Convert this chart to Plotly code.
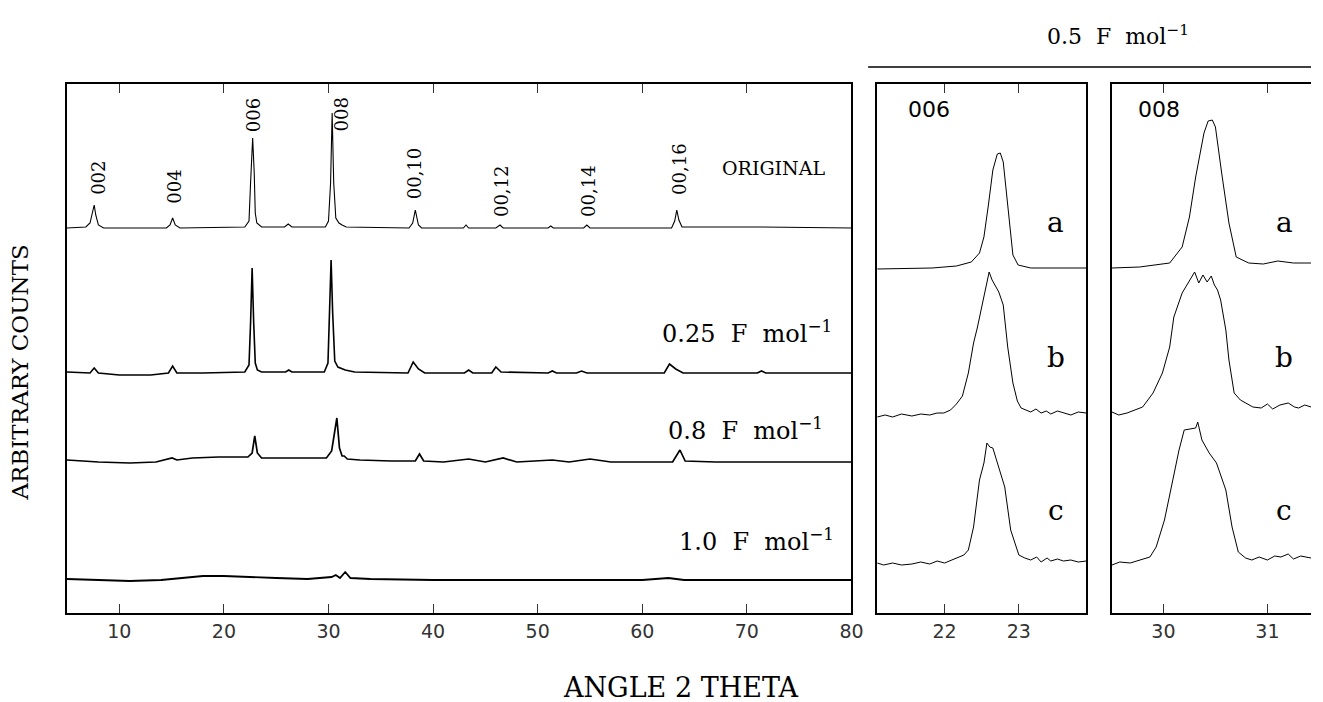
import plotly.graph_objects as go

# ---------------- main panel data (2-theta in degrees, arbitrary counts) ----------------
orig_x = [5, 6.8, 7.2, 7.4, 7.6, 7.75, 8.0, 8.5, 14.5, 14.85, 15.1, 15.35, 15.8, 22.0, 22.4, 22.55,
          22.75, 22.9, 23.0, 23.15, 23.6, 25.8, 26.15, 26.5, 29.7, 30.0, 30.2, 30.35, 30.5, 30.7,
          31.0, 31.3, 31.7, 37.7, 38.05, 38.3, 38.45, 38.6, 38.9, 42.9, 43.15, 43.4, 46.0, 46.4,
          46.7, 51.0, 51.25, 51.5, 54.4, 54.7, 55.0, 62.8, 63.1, 63.3, 63.5, 63.8, 71.0, 80]
orig_y = [385, 386, 390, 400, 408, 398, 388, 385, 385, 388, 395, 388, 385, 386, 392, 430,
          475, 440, 400, 390, 386, 386, 389, 386, 386, 392, 430, 500, 430, 395,
          390, 388, 386, 385, 390, 403, 396, 388, 385, 385, 388, 385, 385, 388,
          385, 385, 387, 385, 385, 388, 385, 385, 392, 403, 393, 386, 386, 385]

f025_x = [5, 7.2, 7.6, 8.0, 10.0, 13.0, 14.7, 15.1, 15.5, 18.0, 22.0, 22.4, 22.55, 22.7, 22.85,
          23.0, 23.2, 23.6, 25.9, 26.2, 26.5, 29.6, 29.95, 30.1, 30.25, 30.4, 30.6, 30.9, 31.2,
          31.6, 32.5, 37.6, 38.1, 38.6, 39.2, 43.0, 43.4, 43.8, 45.6, 46.0, 46.5, 51.0, 51.4,
          51.8, 53.7, 54.2, 54.7, 62.1, 62.6, 63.2, 63.9, 71.0, 71.4, 71.8, 80]
f025_y = [241, 240, 245, 240, 238, 238, 240, 247, 240, 240, 241, 248, 290, 345, 290,
          250, 243, 241, 241, 243, 241, 241, 250, 300, 353, 300, 252, 246, 245,
          243, 241, 240, 251, 244, 240, 240, 243, 240, 240, 246, 241, 240, 242,
          240, 240, 242, 240, 240, 249, 244, 240, 240, 242, 240, 240]

f08_x = [5, 8.0, 11.0, 13.5, 15.05, 15.5, 17.0, 19.5, 22.3, 22.7, 22.95, 23.2, 23.6, 27.0,
         29.8, 30.3, 30.55, 30.8, 31.05, 31.3, 31.5, 31.8, 33.0, 36.0, 38.3, 38.7, 39.1, 41.0,
         43.4, 45.0, 46.7, 48.0, 51.4, 53.0, 55.0, 57.0, 62.9, 63.6, 64.1, 67.0, 72.0, 80]
f08_y = [153, 151, 150, 151, 155, 153, 155, 156, 156, 160, 177, 160, 155, 155,
         155, 162, 180, 195, 165, 157, 157, 154, 153, 152, 152, 159, 152, 151,
         154, 151, 155, 151, 153, 151, 154, 151, 151, 163, 152, 151, 151, 151]

f10_x = [5, 8.0, 11.0, 14.0, 16.0, 18.0, 20.0, 22.0, 25.0, 28.0, 30.3, 30.7, 31.1, 31.6, 32.1,
         34.0, 40.0, 50.0, 60.0, 62.5, 64.0, 70.0, 80]
f10_y = [34, 33, 32, 33, 35, 37, 37, 36, 35, 34, 36, 38, 35, 41, 35,
         34, 33, 33, 33, 35, 33, 33, 33]

# ---------------- 0.5 F/mol detail panels ----------------
p006a_x = [21.093, 21.83, 22.16, 22.36, 22.47, 22.53, 22.59, 22.65, 22.71, 22.75, 22.79,
           22.83, 22.88, 22.92, 22.99, 23.16, 23.907]
p006a_y = [344, 345, 347, 351, 360, 376, 408, 443, 459, 460, 451, 423, 383, 358, 348, 345, 345]

p006b_x = [21.093, 21.2, 21.3, 21.42, 21.56, 21.68, 21.8, 21.9, 21.99, 22.08, 22.16, 22.24,
           22.32, 22.39, 22.44, 22.52, 22.6, 22.64, 22.67, 22.73, 22.79, 22.85, 22.92, 22.98,
           23.03, 23.1, 23.16, 23.23, 23.3, 23.37, 23.43, 23.52, 23.6, 23.7, 23.8, 23.907]
p006b_y = [196, 198, 196, 199, 197, 199, 198, 200, 200, 203, 209, 217, 240, 270, 285, 313,
           341, 333, 329, 321, 308, 266, 230, 212, 205, 203, 201, 204, 200, 202, 199, 202,
           200, 198, 201, 200]

p006c_x = [21.093, 21.18, 21.3, 21.42, 21.56, 21.68, 21.8, 21.9, 22.0, 22.1, 22.19, 22.26,
           22.32, 22.39, 22.47, 22.53, 22.57, 22.61, 22.65, 22.71, 22.76, 22.81, 22.89, 23.0,
           23.08, 23.16, 23.24, 23.3, 23.38, 23.43, 23.52, 23.6, 23.7, 23.8, 23.907]
p006c_y = [50, 48, 50, 48, 49, 51, 49, 52, 50, 53, 56, 58, 63, 86, 133, 150, 170, 166, 165,
           151, 140, 126, 83, 58, 55, 53, 56, 51, 55, 52, 54, 52, 53, 51, 52]

p008a_x = [29.505, 29.77, 30.06, 30.18, 30.25, 30.31, 30.39, 30.43, 30.47, 30.5, 30.56, 30.63,
           30.7, 30.82, 30.96, 31.1, 31.25, 31.419]
p008a_y = [345, 346, 350, 366, 396, 436, 480, 492, 493, 486, 440, 390, 356, 350, 349, 352,
           350, 350]

p008b_x = [29.505, 29.57, 29.65, 29.72, 29.8, 29.9, 29.99, 30.06, 30.1, 30.18, 30.25, 30.3,
           30.34, 30.38, 30.42, 30.46, 30.49, 30.52, 30.55, 30.6, 30.63, 30.68, 30.74, 30.79,
           30.86, 30.94, 31.0, 31.05, 31.12, 31.2, 31.26, 31.3, 31.36, 31.419]
p008b_y = [201, 198, 200, 203, 206, 220, 240, 266, 296, 320, 333, 341, 330, 338, 331, 337,
           328, 323, 313, 283, 253, 220, 213, 210, 206, 205, 209, 204, 208, 210, 206, 205,
           208, 206]

p008c_x = [29.505, 29.58, 29.68, 29.78, 29.87, 29.93, 30.01, 30.09, 30.15, 30.2, 30.31, 30.33,
           30.37, 30.44, 30.51, 30.6, 30.66, 30.72, 30.79, 30.85, 30.92, 31.0, 31.07, 31.13,
           31.2, 31.25, 31.32, 31.419]
p008c_y = [48, 51, 50, 53, 56, 66, 93, 133, 163, 183, 185, 191, 173, 160, 150, 123, 86, 61,
           55, 53, 56, 53, 57, 56, 59, 54, 57, 55]

main_ticks = [10, 20, 30, 40, 50, 60, 70, 80]
p006_ticks = [22, 23]
p008_ticks = [30, 31]

hkl_labels = ["002", "004", "006", "008", "00,10", "00,12", "00,14", "00,16"]
hkl_x = [7.95, 15.2, 22.8, 31.15, 38.2, 46.5, 54.8, 63.5]
hkl_y = [435, 426, 498, 498, 440, 422, 422, 444]

SERIF = "DejaVu Serif"
SANS = "DejaVu Sans"

fig = go.Figure()

for xs, ys, w in [(orig_x, orig_y, 1.1), (f025_x, f025_y, 1.6), (f08_x, f08_y, 1.7), (f10_x, f10_y, 1.8)]:
    fig.add_trace(go.Scatter(x=xs, y=ys, mode="lines", line=dict(color="black", width=w),
                             xaxis="x", yaxis="y", showlegend=False, hoverinfo="skip"))
for xs, ys in [(p006a_x, p006a_y), (p006b_x, p006b_y), (p006c_x, p006c_y)]:
    fig.add_trace(go.Scatter(x=xs, y=ys, mode="lines", line=dict(color="black", width=1),
                             xaxis="x2", yaxis="y2", showlegend=False, hoverinfo="skip"))
for xs, ys in [(p008a_x, p008a_y), (p008b_x, p008b_y), (p008c_x, p008c_y)]:
    fig.add_trace(go.Scatter(x=xs, y=ys, mode="lines", line=dict(color="black", width=1),
                             xaxis="x3", yaxis="y3", showlegend=False, hoverinfo="skip"))

tickfont = dict(family=SANS, size=19, color="#333")
common_x = dict(ticks="inside", ticklen=9, tickwidth=1, tickcolor="#333", showline=True,
                linecolor="black", linewidth=1.5, mirror="allticks", showgrid=False,
                zeroline=False, tickfont=tickfont)
common_y = dict(range=[0, 529], domain=[0, 1], showticklabels=False, ticks="", showline=True,
                linecolor="black", linewidth=1.5, showgrid=False, zeroline=False)

fig.update_layout(
    width=1323, height=702,
    margin=dict(l=67, r=0, t=84, b=89),
    paper_bgcolor="white", plot_bgcolor="white",
    xaxis=dict(domain=[0, 0.6306], range=[5, 80], tickvals=main_ticks, anchor="y", **common_x),
    yaxis=dict(anchor="x", mirror=True, **common_y),
    xaxis2=dict(domain=[0.6513, 0.8193], range=[21.093, 23.907], tickvals=p006_ticks, anchor="y2", **common_x),
    yaxis2=dict(anchor="x2", mirror=True, **common_y),
    xaxis3=dict(domain=[0.84, 1.0], range=[29.505, 31.419], tickvals=p008_ticks, anchor="y3", **common_x),
    yaxis3=dict(anchor="x3", mirror=False, **common_y),
)

ann = []
for t, x, y in zip(hkl_labels, hkl_x, hkl_y):
    ann.append(dict(text=t, x=x, y=y, xref="x", yref="y", textangle=-90, showarrow=False,
                    xanchor="center", yanchor="middle",
                    font=dict(family=SERIF, size=18, color="black")))
ann.append(dict(text="ORIGINAL", x=72.5, y=445, xref="x", yref="y", showarrow=False,
                xanchor="center", yanchor="middle",
                font=dict(family=SERIF, size=19, color="black")))
nb = "\u00a0"
for t, x, y in [("0.25" + nb + " F" + nb + " mol", 78.3, 281),
                ("0.8" + nb + " F" + nb + " mol", 77.5, 184),
                ("1.0" + nb + " F" + nb + " mol", 78.5, 73)]:
    ann.append(dict(text=t + "<sup>\u22121</sup>", x=x, y=y, xref="x", yref="y", xanchor="right",
                    yanchor="middle", showarrow=False,
                    font=dict(family=SERIF, size=24, color="black")))
ann.append(dict(text="006", x=21.79, y=504, xref="x2", yref="y2", showarrow=False,
                xanchor="center", yanchor="middle",
                font=dict(family=SANS, size=22, color="black")))
ann.append(dict(text="008", x=29.96, y=504, xref="x3", yref="y3", showarrow=False,
                xanchor="center", yanchor="middle",
                font=dict(family=SANS, size=22, color="black")))
for t, y in [("a", 391), ("b", 256), ("c", 103)]:
    ann.append(dict(text=t, x=23.5, y=y, xref="x2", yref="y2", showarrow=False,
                    xanchor="center", yanchor="middle",
                    font=dict(family=SERIF, size=28, color="black")))
    ann.append(dict(text=t, x=31.16, y=y, xref="x3", yref="y3", showarrow=False,
                    xanchor="center", yanchor="middle",
                    font=dict(family=SERIF, size=28, color="black")))
ann.append(dict(text="0.5" + nb + " F" + nb + " mol<sup>\u22121</sup>", x=0.845, y=1.093,
                xref="paper", yref="paper", showarrow=False, xanchor="center", yanchor="middle",
                font=dict(family=SERIF, size=22, color="black")))
ann.append(dict(text="ANGLE 2 THETA", x=0.493, y=-0.14, xref="paper", yref="paper",
                showarrow=False, xanchor="center", yanchor="middle",
                font=dict(family=SERIF, size=27, color="black")))
ann.append(dict(text="ARBITRARY COUNTS", x=-0.038, y=0.454, xref="paper", yref="paper",
                textangle=-90, showarrow=False, xanchor="center", yanchor="middle",
                font=dict(family=SERIF, size=23, color="black")))
fig.update_layout(annotations=ann)

fig.add_shape(type="line", xref="paper", yref="paper", x0=0.644, x1=1.0, y0=1.032, y1=1.032,
              line=dict(color="black", width=1.5))

# remove the default page margin and let the figure span the full page width
post = ("document.documentElement.style.overflow='hidden';"
        "document.body.style.margin='0';document.body.style.padding='0';document.body.style.overflow='hidden';"
        "var gd=document.getElementById('{plot_id}');"
        "var w=document.documentElement.clientWidth||window.innerWidth;"
        "gd.style.width=w+'px';"
        "Plotly.relayout(gd,{width:w});")
fig.write_html("out.html", config={"displayModeBar": False}, post_script=post)
